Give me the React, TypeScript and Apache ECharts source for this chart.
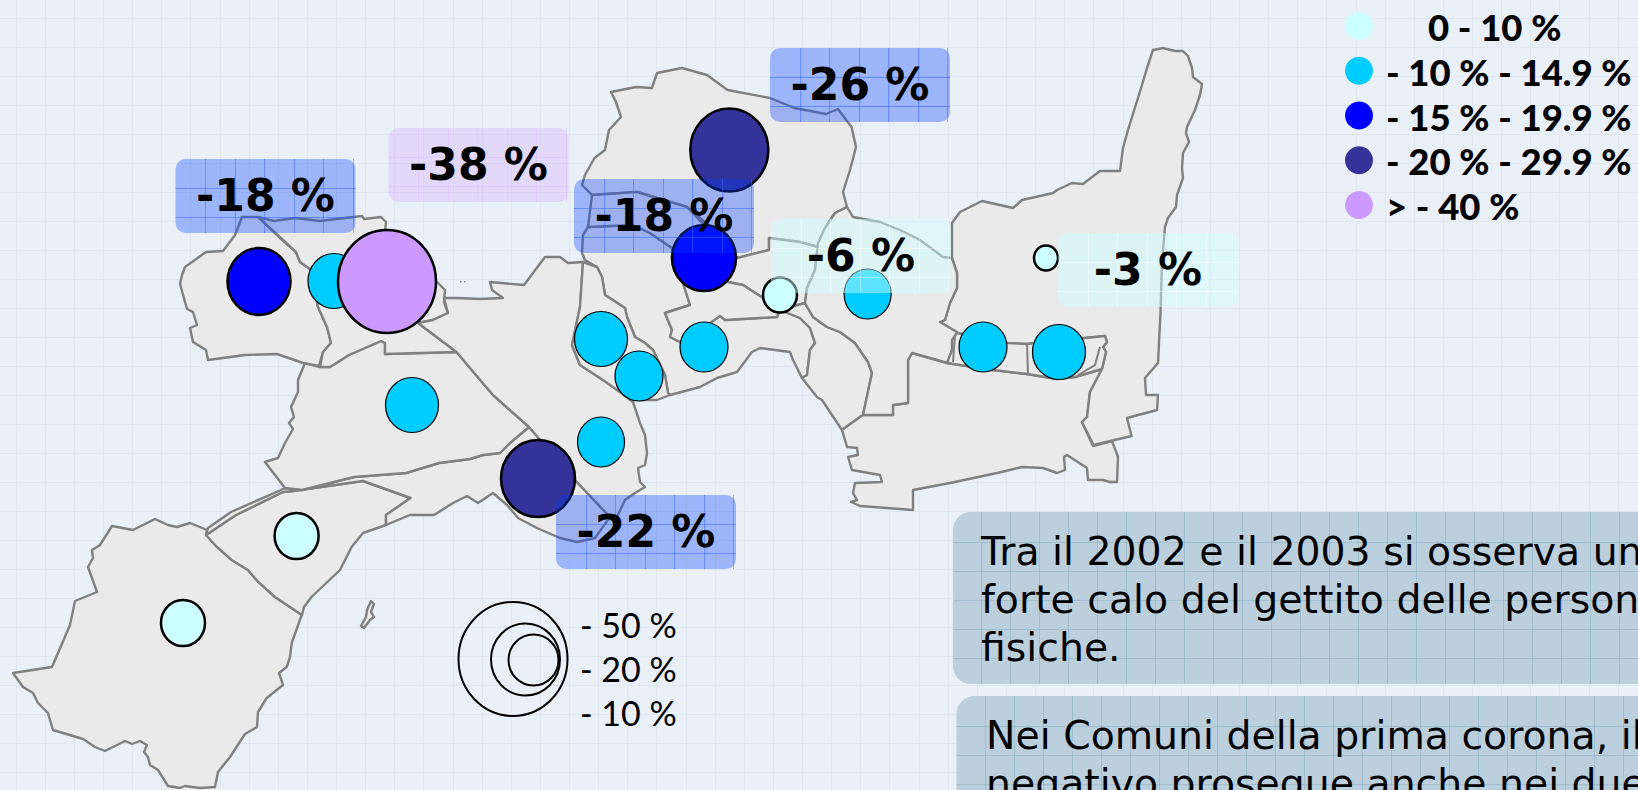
import React, { useEffect, useRef } from "react";
import * as echarts from "echarts";

const W = 1638;
const H = 790;

// Map outlines, in the map's own units
const regionA = [[242,217],[258,217],[280,238],[296,252],[300,262],[310,269],[318,307],[327,327],[331,343],[323,352],[319,366],[303,363],[277,354],[245,355],[208,360],[206,350],[193,342],[190,328],[197,325],[193,312],[187,309],[180,284],[182,275],[185,267],[206,252],[223,251],[235,235]];
const regionB = [[258,217],[274,221],[295,218],[320,221],[345,218],[362,216],[364,219],[381,217],[386,222],[385,232],[437,282],[445,290],[444,302],[448,313],[433,320],[418,323],[456.6,352],[385,354],[385,343],[381,341],[349,355],[330,367],[320,367],[323,352],[331,343],[327,327],[318,307],[310,269],[300,262],[296,252]];
const regionC = [[305,363],[320,367],[330,367],[349,355],[381,341],[385,343],[385,354],[456.6,352],[470,368],[493,395],[529,427],[510,443],[500,453],[483,455],[470,459],[439,463],[406,473],[354,477],[302,490],[285,488],[265,462],[278,458],[285,443],[293,429],[289,423],[294,417],[291,407],[298,392],[298,380]];
const regionD = [[456.6,352],[418,323],[433,320],[448,313],[444,298],[457,298],[480,299],[503,298],[492,290],[490,282],[524,285],[545,257],[560,257],[568,263],[583,262],[580,307],[572,345],[580,365],[603,380],[608,383],[633,402],[640,423],[645,435],[647,453],[645,465],[638,468],[640,482],[645,487],[635,493],[625,500],[617,517],[610,517],[575,480],[529,427],[493,395],[470,368]];
const regionE = [[582,185],[592,195],[637,192],[687,207],[720,235],[737,258],[769,250],[769,238],[800,242],[818,247],[825,228],[835,213],[847,207],[843,192],[850,170],[856,147],[851.6,127],[838,109],[826,114],[794.5,108],[770,98],[727.5,90],[707,75],[682,68],[657,73],[652,88],[636,87],[611,92],[616,102],[621,117],[609,130],[605,150],[594.5,158],[585,175]];
const regionF = [[825,228],[835,213],[847,207],[853,217],[880,222],[900,230],[920,240],[943,257],[952,258],[957,273],[957,288],[950,303],[945,320],[940,322],[957,332],[955,340],[948,363],[912,353],[908,360],[908,403],[893,405],[893,415],[863,415],[872,373],[868,362],[855,343],[840,332],[827,327],[813,317],[805,303],[807,288],[815,270],[818,243]];
const regionG = [[780,310],[800,318],[810,328],[815,343],[810,350],[807,375],[802,378],[817,397],[822,400],[842,430],[860,417],[863,415],[872,373],[868,362],[855,343],[840,332],[827,327],[813,317],[805,303]];
const regionH = [[737,258],[769,250],[769,238],[800,242],[818,247],[815,270],[807,288],[805,303],[780,310],[763,298],[743,285],[728,282],[704,260]];
const regionJ = [[683,283],[690,305],[665,313],[672,330],[670,337],[680,342],[700,330],[720,316],[725,320],[777,317],[780,310],[763,298],[743,285],[728,282],[704,280]];
const regionK = [[583,262],[597,267],[602,277],[605,295],[625,308],[627,317],[635,337],[645,343],[653,350],[665,375],[668,393],[670,395],[657,400],[632,400],[610,385],[603,380],[580,365],[572,345],[580,307]];
const regionL = [[583,235],[588,227],[633,225],[650,233],[672,248],[683,283],[690,305],[665,313],[672,330],[670,337],[680,342],[700,330],[720,316],[725,320],[777,317],[780,310],[800,318],[810,328],[815,343],[810,350],[807,375],[802,378],[793,360],[790,352],[760,348],[752,352],[737,372],[717,378],[700,387],[670,395],[668,393],[665,375],[653,350],[645,343],[635,337],[627,317],[625,308],[605,295],[602,277],[597,267],[585,260],[582,253]];
const regionM = [[592,195],[637,192],[687,207],[704,225],[672,248],[650,233],[633,225],[588,227]];
const regionP = [[842,430],[860,417],[863,415],[893,415],[893,405],[908,403],[908,360],[912,353],[947,363],[993,370],[1027,374],[1057,379],[1075,377],[1102,369],[1090,392],[1087,417],[1082,422],[1093,446],[1112,441],[1118,457],[1117,482],[1110,482],[1103,480],[1088,480],[1087,468],[1067,455],[1064,457],[1065,470],[1057,473],[1043,468],[1022,467],[997,473],[950,483],[913,490],[913,510],[860,506],[851,502],[857,500],[853,493],[855,483],[882,482],[880,475],[852,470],[848,457],[858,455],[857,448],[847,447],[845,440]];
const regionQ = [[947,363],[952,350],[952,340],[957,333],[1007,343],[1027,344],[1085,338],[1105,336],[1107,342],[1103,347],[1106,352],[1102,369],[1075,377],[1057,379],[1027,374],[993,370]];
const lineQ1 = [[1027,344],[1028,374]];
const lineQ2 = [[955,335],[953,362]];
const lineQ3 = [[1078,375],[1095,365],[1100,347]];
const regionR = [[1153,50],[1163,48],[1175,51],[1183,51],[1188,56],[1192,68],[1193,77],[1202,84],[1200,95],[1195,110],[1187,127],[1186,133],[1189,142],[1183,153],[1182,168],[1183,178],[1177,195],[1176,207],[1168,218],[1165,227],[1162,263],[1160.5,313],[1158,363],[1145,378],[1146,395],[1158,395],[1157,410],[1127,418],[1131.5,436],[1093.6,445],[1082,422],[1087,417],[1090,392],[1102,369],[1106,352],[1103,347],[1107,342],[1105,336],[1085,338],[1027,344],[1007,343],[957,333],[940,322],[945,320],[950,303],[957,288],[957,273],[952,258],[952,223],[960,212],[982,201],[1013,208],[1022,200],[1040,196],[1053,193],[1057,190],[1072,183],[1083,184],[1100,171],[1120,171],[1123,148],[1128,130],[1142,85],[1147,68]];
const regionV = [[206.7,535],[216.7,546.7],[231.7,560],[248,570],[258,581.7],[275,597],[301.7,615],[291.7,643],[290,657],[286.7,667],[279,673],[283,685],[266.7,698],[258,712],[257,727],[245,734],[230,757],[218,772],[215,787],[200,788],[185,786],[180,788],[168,786],[158,770],[150,765],[148,757],[144,752],[147,745],[140,741],[132,744],[125,741],[105,751],[95,747],[83,739],[53,730],[48,713],[38,703],[33,693],[23,687],[13,673],[52,667],[70,625],[75,601],[97,592],[88,567],[93,558],[92,550],[100,545],[112,526],[133,530],[155,519],[168,525],[177,527],[190,523],[207,530]];
const regionW = [[206,535],[236,515],[283,492],[293,491],[363,481],[410.6,498],[386,515],[386,525],[363,533],[351.6,547],[340,570],[311.5,597],[304,607],[302,615],[275,597],[258,581.7],[248,570],[231.7,560],[216.7,546.7]];
const regionX = [[208,528],[231,512],[285.5,488],[302,490],[354,477],[406,473],[439,463],[470,459],[483,455],[500,453],[510,443],[529,427],[575,480],[610,517],[595,538],[577,542],[560,538],[537,528],[518,518],[507,505],[493,493],[478,503],[467,496],[453,503],[434,515],[410,515],[386,525],[386,515],[410.6,498],[363,481],[293,491],[283,492],[236,515],[206,535]];
const island = [[371,601],[374,604],[371,612],[374,617],[370,620],[364,628],[361,626],[366,617],[367,610]];

const regions = [regionV, regionW, regionX, regionC, regionA, regionB, regionD, regionL, regionK, regionE, regionM, regionH, regionJ, regionG, regionP, regionR, regionF, regionQ, island];
const extraLines = [lineQ1, lineQ2, lineQ3];

// Legend classes
const classLabels = ["0 - 10 %", "- 10 % - 14.9 %", "- 15 % - 19.9 %", "- 20 % - 29.9 %", "> - 40 %"];
const classColors = ["#CCFFFF", "#00CCFF", "#0000FF", "#333399", "#CC99FF"];

// Bubbles: x, y, width, height, class
const bubbles = [
  [183, 623, 44, 46, 0],
  [296.6, 536, 44, 46, 0],
  [780, 295, 34, 35, 0],
  [1046, 258, 24, 25, 0],
  [334, 281, 52, 55, 1],
  [412, 405, 53, 55, 1],
  [601, 339, 53, 55, 1],
  [639, 376, 48, 50, 1],
  [704, 347, 48, 50, 1],
  [601, 442, 47, 50, 1],
  [867.6, 294, 47, 50, 1],
  [983, 347, 48, 50, 1],
  [1059, 352, 53, 55, 1],
  [259, 281.5, 63, 67, 2],
  [704, 258, 64, 66, 2],
  [729.3, 150, 78, 83, 3],
  [538, 478.6, 74, 77, 3],
  [387, 281.5, 98, 103, 4],
];

// Size key: x, y, width, height
const sizeKey = [
  [513, 659, 109, 114],
  [525.5, 659.5, 69, 72],
  [533.5, 660, 50, 51],
];
const sizeKeyLabels = ["- 50 %", "- 20 %", "- 10 %"];

// Callouts: text, x, y, class
const callouts: [string, number, number, number][] = [
  ["-18 %", 175.5, 159, 2],
  ["-38 %", 388.5, 128, 4],
  ["-18 %", 574, 179, 2],
  ["-26 %", 770, 48, 2],
  ["-6 %", 771, 219, 0],
  ["-3 %", 1058, 233, 0],
  ["-22 %", 556, 495, 2],
];
const calloutFill: Record<number, string> = {
  2: "rgba(0,60,255,0.33)",
  4: "rgba(204,153,255,0.27)",
  0: "rgba(204,255,255,0.46)",
};
const calloutGrid: Record<number, string> = {
  2: "rgba(50,100,255,0.5)",
  4: "rgba(225,195,255,0.6)",
  0: "rgba(255,255,255,0.35)",
};

const paragraphs = [
  { x: 953, y: 512, h: 172, tx: 981, ty: 552, lines: ["Tra il 2002 e il 2003 si osserva un", "forte calo del gettito delle persone", "fisiche."] },
  { x: 956.5, y: 696, h: 200, tx: 986, ty: 736, lines: ["Nei Comuni della prima corona, il", "negativo prosegue anche nei due"] },
];

const specks = [[460, 281], [464, 281]];
const GRID = 29;

function buildGraphics() {
  const els: any[] = [];
  // page texture
  for (let x = 15.6; x < W; x += 29.13) {
    const rx = Math.round(x) + 0.5;
    els.push({ type: "line", z: 0, silent: true, shape: { x1: rx, y1: 0, x2: rx, y2: H }, style: { stroke: "#E1E8F1", lineWidth: 1 } });
  }
  for (let y = 18.3; y < H; y += GRID) {
    const ry = Math.round(y) + 0.5;
    els.push({ type: "line", z: 0, silent: true, shape: { x1: 0, y1: ry, x2: W, y2: ry }, style: { stroke: "#E1E8F1", lineWidth: 1 } });
  }
  specks.forEach(([x, y]) => {
    els.push({ type: "rect", z: 5, silent: true, shape: { x, y, width: 1.5, height: 1.5 }, style: { fill: "#909090" } });
  });

  // legend
  classLabels.forEach((t, i) => {
    const cy = 26 + i * 44.75;
    els.push({ type: "circle", z: 5, shape: { cx: 1359, cy, r: 14 }, style: { fill: classColors[i] } });
    els.push({ type: "text", z: 5, style: { text: t, x: i === 0 ? 1428 : 1386, y: cy + 1, fontFamily: "Lato", fontWeight: 900, fontSize: 36.5, fill: "#000", textAlign: "left", textVerticalAlign: "middle" } });
  });
  sizeKeyLabels.forEach((t, i) => {
    els.push({ type: "text", z: 5, style: { text: t, x: 580, y: 624 + i * 44, fontFamily: "Lato", fontSize: 34, fill: "#000", textAlign: "left", textVerticalAlign: "middle" } });
  });

  // callout boxes sit above the bubbles
  callouts.forEach(([t, x, y, c]) => {
    els.push({ type: "rect", z: 10, shape: { x, y, width: 180, height: 74, r: 10 }, style: { fill: calloutFill[c] } });
    for (let k = 1; k * 29.5 < 180; k++) {
      const lx = Math.round(x + k * 29.5) + 0.5;
      els.push({ type: "line", z: 11, shape: { x1: lx, y1: y, x2: lx, y2: y + 74 }, style: { stroke: calloutGrid[c], lineWidth: 1 } });
    }
    for (let k = 1; k * GRID < 74; k++) {
      const ly = Math.round(y + k * GRID) + 0.5;
      els.push({ type: "line", z: 11, shape: { x1: x, y1: ly, x2: x + 180, y2: ly }, style: { stroke: calloutGrid[c], lineWidth: 1 } });
    }
    els.push({ type: "text", z: 12, style: { text: t, x: x + 90, y: y + 36, fontFamily: "DejaVu Sans", fontWeight: "bold", fontSize: 44, fill: "#000", textAlign: "center", textVerticalAlign: "middle" } });
  });

  // text panels
  paragraphs.forEach((p) => {
    els.push({ type: "rect", z: 10, shape: { x: p.x, y: p.y, width: W + 40 - p.x, height: p.h, r: 18 }, style: { fill: "#BCCFDD" } });
    for (let lx = p.x + 28; lx < W; lx += GRID) {
      const rx = Math.round(lx) + 0.5;
      els.push({ type: "line", z: 11, shape: { x1: rx, y1: p.y, x2: rx, y2: p.y + p.h }, style: { stroke: "rgba(120,165,185,0.4)", lineWidth: 1 } });
    }
    for (let ly = p.y + 29.7; ly < p.y + p.h; ly += GRID) {
      const ry = Math.round(ly) + 0.5;
      els.push({ type: "line", z: 11, shape: { x1: p.x, y1: ry, x2: W, y2: ry }, style: { stroke: "rgba(120,165,185,0.4)", lineWidth: 1 } });
    }
    p.lines.forEach((t, i) => {
      els.push({ type: "text", z: 12, x: p.tx, y: p.ty + i * 48, scaleX: 1.01, style: { text: t, x: 0, y: 0, fontFamily: "DejaVu Sans", fontSize: 39, fill: "#000", textAlign: "left", textVerticalAlign: "middle" } });
    });
  });
  return els;
}

export default function App() {
  const ref = useRef<HTMLDivElement>(null);
  useEffect(() => {
    document.body.style.margin = "0";
    document.body.style.overflow = "hidden";
    const chart = echarts.init(ref.current!, null, { renderer: "svg" });
    chart.setOption({
      animation: false,
      backgroundColor: "#EAF0F8",
      grid: { left: 0, right: 0, top: 0, bottom: 0 },
      xAxis: { type: "value", min: 0, max: W, show: false },
      yAxis: { type: "value", min: 0, max: H, inverse: true, show: false },
      graphic: { elements: buildGraphics() },
      series: [
        {
          type: "custom",
          coordinateSystem: "cartesian2d",
          z: 2,
          silent: true,
          data: regions.map((_, i) => [i]),
          clip: false,
          renderItem: (params: any, api: any) => {
            const pts = regions[api.value(0)].map((p) => api.coord(p));
            return { type: "polygon", shape: { points: pts }, style: { fill: "#EAEAEA", stroke: "#808080", lineWidth: 2.4, lineJoin: "round" } };
          },
        },
        {
          type: "custom",
          coordinateSystem: "cartesian2d",
          z: 3,
          silent: true,
          data: extraLines.map((_, i) => [i]),
          renderItem: (params: any, api: any) => {
            const pts = extraLines[api.value(0)].map((p) => api.coord(p));
            return { type: "polyline", shape: { points: pts }, style: { fill: "none", stroke: "#808080", lineWidth: 2 } };
          },
        },
        {
          type: "custom",
          coordinateSystem: "cartesian2d",
          z: 4,
          silent: true,
          data: bubbles,
          renderItem: (params: any, api: any) => {
            const [cx, cy] = api.coord([api.value(0), api.value(1)]);
            const c = api.value(4);
            return {
              type: "ellipse",
              shape: { cx, cy, rx: api.value(2) / 2, ry: api.value(3) / 2 },
              style: { fill: classColors[c], stroke: "#000", lineWidth: c === 1 ? 1.2 : 2.5 },
            };
          },
        },
        {
          type: "custom",
          coordinateSystem: "cartesian2d",
          z: 4,
          silent: true,
          data: sizeKey,
          renderItem: (params: any, api: any) => {
            const [cx, cy] = api.coord([api.value(0), api.value(1)]);
            return {
              type: "ellipse",
              shape: { cx, cy, rx: api.value(2) / 2, ry: api.value(3) / 2 },
              style: { fill: "none", stroke: "#000", lineWidth: 2 },
            };
          },
        },
      ],
    });
    return () => chart.dispose();
  }, []);
  return <div ref={ref} style={{ position: "absolute", left: 0, top: 0, width: W, height: H }} />;
}
